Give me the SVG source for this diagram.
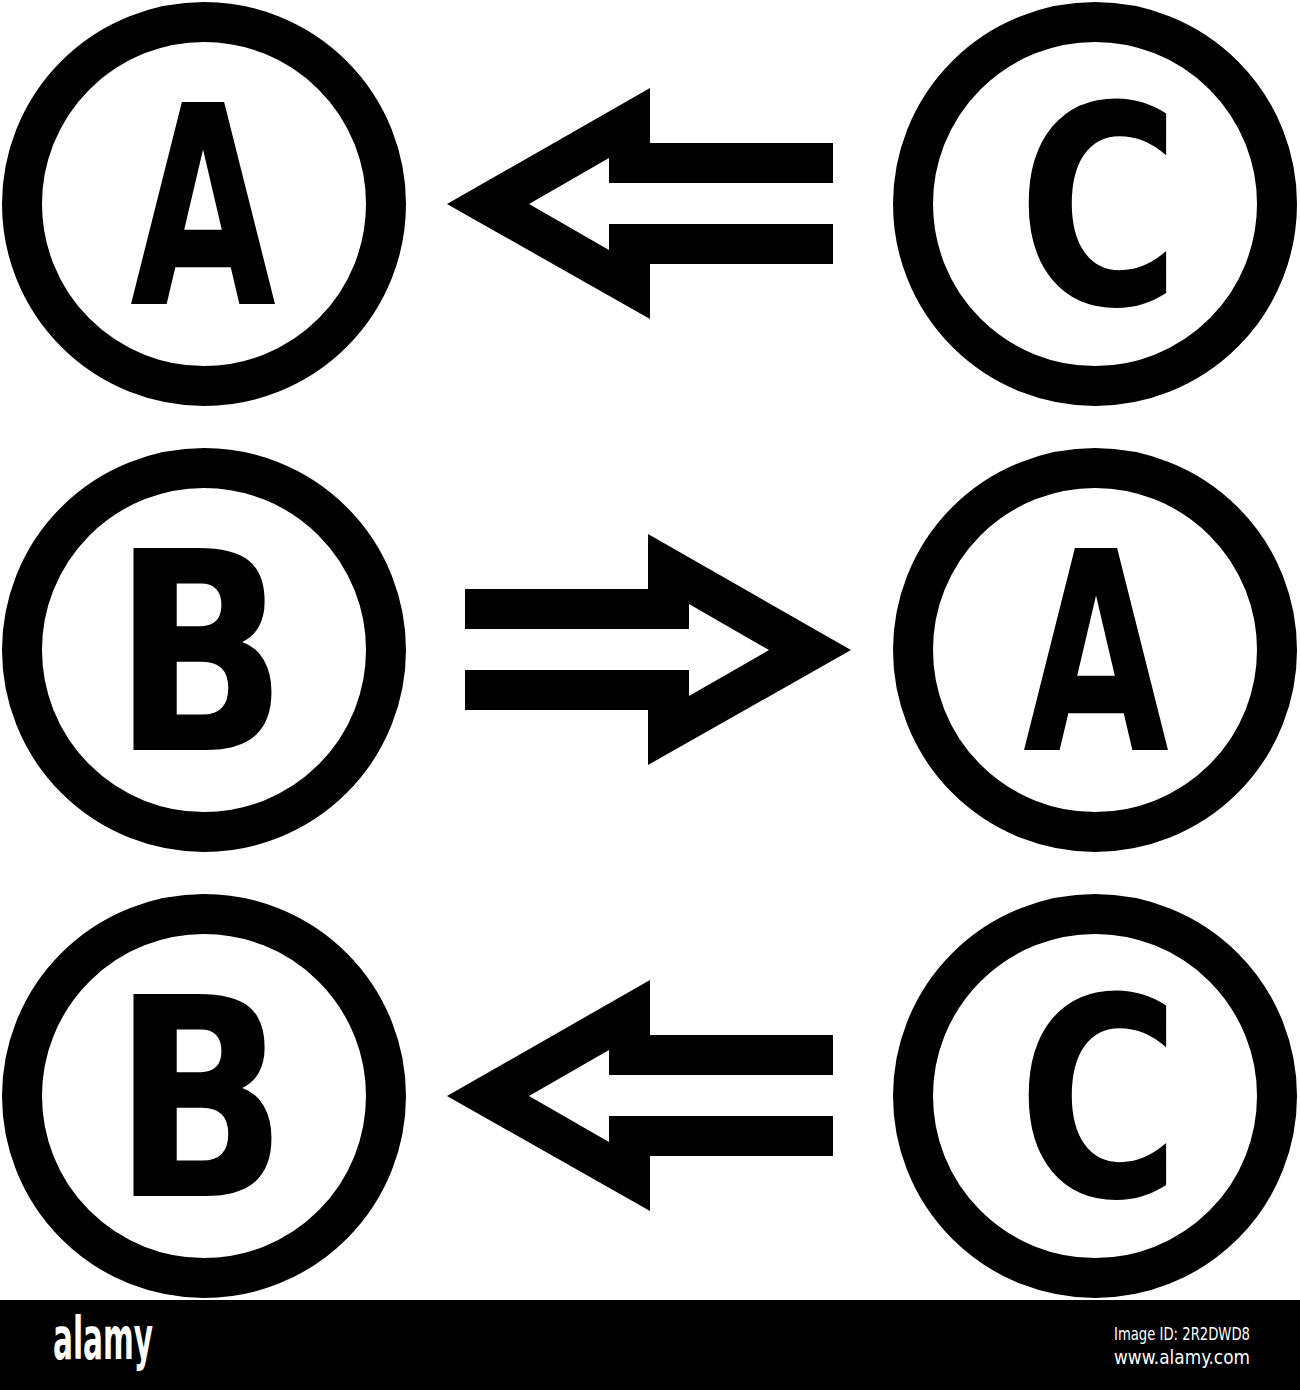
<svg xmlns="http://www.w3.org/2000/svg" width="1300" height="1390" viewBox="0 0 1300 1390">
  <style>
    .ring { fill: none; stroke: #000; stroke-width: 40; }
    .letter { font-family: "DejaVu Sans", "Liberation Sans", sans-serif; font-weight: bold; font-size: 277px; fill: #000; text-anchor: middle; }
    .arrow { fill: #000; stroke: none; }
    .foot { fill: #fff; font-family: "Liberation Sans Narrow", "DejaVu Sans Condensed", "Liberation Sans", sans-serif; }
  </style>
  <defs>
    <polygon id="arrowLeft" class="arrow" points="447,204 650,88 650,143 833,143 833,183 609,183 609,158 529,204 609,250 609,224 833,224 833,264 650,264 650,319"/>
  </defs>
  <rect x="0" y="0" width="1300" height="1390" fill="#fff"/>

  <g id="node-a1">
    <circle class="ring" cx="204" cy="204" r="182"/>
    <text class="letter" transform="translate(203,304) scale(0.68,1)">A</text>
  </g>
  <g id="node-c1">
    <circle class="ring" cx="1095" cy="204" r="182"/>
    <text class="letter" transform="translate(1099,304) scale(0.8,1)">C</text>
  </g>
  <g id="node-b2">
    <circle class="ring" cx="204" cy="650" r="182"/>
    <text class="letter" transform="translate(200,750) scale(0.83,1)">B</text>
  </g>
  <g id="node-a2">
    <circle class="ring" cx="1095" cy="650" r="182"/>
    <text class="letter" transform="translate(1096,750) scale(0.68,1)">A</text>
  </g>
  <g id="node-b3">
    <circle class="ring" cx="204" cy="1096" r="182"/>
    <text class="letter" transform="translate(200,1196) scale(0.83,1)">B</text>
  </g>
  <g id="node-c3">
    <circle class="ring" cx="1095" cy="1096" r="182"/>
    <text class="letter" transform="translate(1099,1196) scale(0.8,1)">C</text>
  </g>

  <g id="connectors">
    <use href="#arrowLeft"/>
    <use href="#arrowLeft" transform="translate(1298,446) scale(-1,1)"/>
    <use href="#arrowLeft" transform="translate(0,892)"/>
  </g>

  <g id="footer">
    <rect x="0" y="1300" width="1300" height="90" fill="#000"/>
    <text class="foot" x="53" y="1359" font-size="58" font-weight="bold" textLength="100" lengthAdjust="spacingAndGlyphs">alamy</text>
    <text class="foot" x="1114" y="1340" font-size="17" textLength="136" lengthAdjust="spacingAndGlyphs">Image ID: 2R2DWD8</text>
    <text class="foot" x="1114" y="1364" font-size="20" textLength="136" lengthAdjust="spacingAndGlyphs">www.alamy.com</text>
  </g>
</svg>
